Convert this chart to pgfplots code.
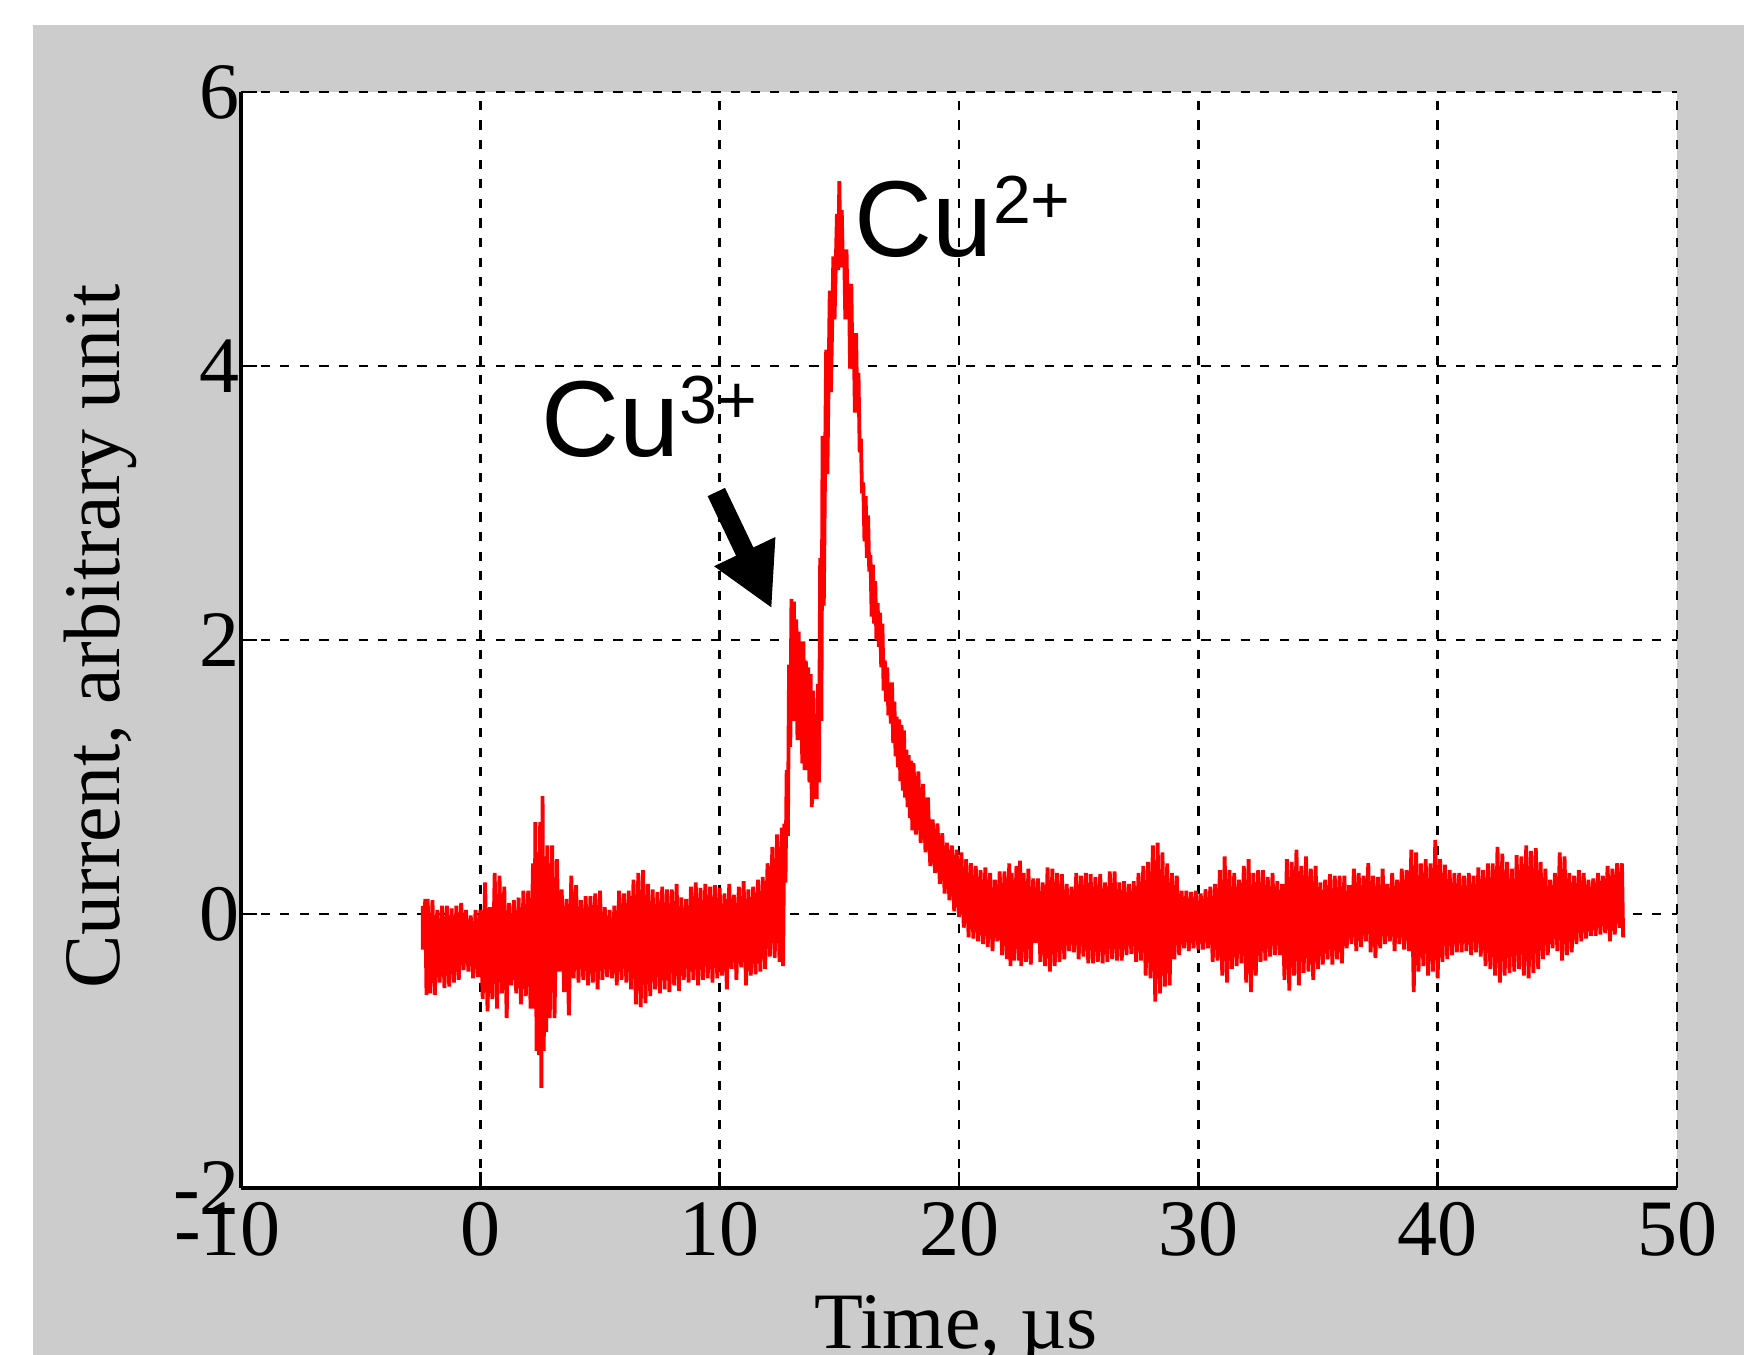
\documentclass[border=0pt]{standalone}
\usepackage{fontspec}
\setmainfont{Liberation Serif}
\newfontfamily\arial{Liberation Sans}
\usepackage{pgfplots}
\pgfplotsset{compat=1.18}
\usetikzlibrary{arrows.meta}
\definecolor{bggray}{RGB}{204,204,204}
\begin{document}
\begin{tikzpicture}[x=1pt,y=1pt]
\useasboundingbox (0,0) rectangle (436,338.75);
\fill[bggray] (8.25,0) rectangle (436,332.5);
\begin{axis}[
  at={(60.25pt,41.75pt)}, anchor=south west,
  scale only axis, width=359pt, height=274pt,
  xmin=-10, xmax=50, ymin=-2, ymax=6,
  xtick={-10,0,10,20,30,40,50}, ytick={-2,0,2,4,6},
  xticklabels={\llap{-}10,0,10,20,30,40,50},
  yticklabels={-2,0,2,4,6},
  axis background/.style={fill=white},
  axis x line*=bottom, axis y line*=left,
  axis line style={line width=1pt, black},
  grid=major,
  major grid style={black, line width=0.7pt, dash pattern=on 2.3pt off 2.6pt},
  tick style={black, line width=0.7pt},
  major tick length=4pt,
  tick align=inside,
  ticklabel style={font=\fontsize{20}{24}\selectfont},
  yticklabel style={xshift=3.2pt},
  xlabel={Time, µs}, ylabel={Current, arbitrary unit},
  label style={font=\fontsize{20}{24}\selectfont},
  xlabel style={at={(axis description cs:0.498,-0.1469)}, anchor=base},
  ylabel style={at={(axis description cs:-0.0843,0.503)}, anchor=base},
  clip=false,
]
\addplot[red, line width=0.95pt, line join=miter, miter limit=1.5] coordinates {
(-2.4,0.06)(-2.4,-0.26)(-2.3,0.11)(-2.25,-0.59)(-2.2,0.11)(-2.1,-0.58)(-2.0,0.10)(-1.9,-0.59)(-1.8,0.03)(-1.7,-0.50)
(-1.6,0.06)(-1.5,-0.54)(-1.4,0.06)(-1.3,-0.53)(-1.2,0.04)(-1.1,-0.50)(-1.0,0.06)(-0.9,-0.48)(-0.8,0.08)(-0.7,-0.41)
(-0.6,0.03)(-0.5,-0.42)(-0.4,-0.01)(-0.3,-0.47)(-0.2,0.03)(-0.1,-0.46)(0.0,0.03)(0.1,-0.62)(0.2,0.23)(0.3,-0.71)
(0.4,0.05)(0.5,-0.62)(0.6,0.30)(0.7,-0.69)(0.8,0.28)(0.9,-0.58)(1.0,0.20)(1.1,-0.76)(1.2,0.08)(1.3,-0.52)
(1.4,0.10)(1.5,-0.58)(1.6,0.12)(1.7,-0.66)(1.8,0.17)(1.9,-0.60)(2.0,0.17)(2.1,-0.69)(2.2,0.37)(2.25,-0.69)
(2.3,0.67)(2.35,-1.00)(2.4,0.45)(2.45,-1.03)(2.5,0.67)(2.55,-1.27)(2.6,0.86)(2.65,-1.00)(2.7,0.42)(2.75,-0.86)
(2.8,0.50)(2.9,-0.76)(3.0,0.50)(3.1,-0.76)(3.2,0.40)(3.3,-0.42)(3.4,0.18)(3.5,-0.57)(3.6,0.11)(3.7,-0.74)
(3.8,0.28)(3.9,-0.47)(4.0,0.21)(4.1,-0.50)(4.2,0.10)(4.3,-0.48)(4.4,0.13)(4.5,-0.52)(4.6,0.13)(4.7,-0.50)
(4.8,0.15)(4.9,-0.55)(5.0,0.17)(5.1,-0.48)(5.2,0.05)(5.3,-0.46)(5.4,0.03)(5.5,-0.47)(5.6,0.06)(5.7,-0.52)
(5.8,0.17)(5.9,-0.48)(6.0,0.15)(6.1,-0.50)(6.2,0.17)(6.3,-0.55)(6.4,0.25)(6.5,-0.66)(6.6,0.30)(6.7,-0.68)
(6.8,0.32)(6.9,-0.65)(7.0,0.22)(7.1,-0.60)(7.2,0.18)(7.3,-0.55)(7.4,0.16)(7.5,-0.58)(7.6,0.20)(7.7,-0.55)
(7.8,0.18)(7.9,-0.57)(8.0,0.18)(8.1,-0.52)(8.2,0.22)(8.3,-0.56)(8.4,0.12)(8.5,-0.48)(8.6,0.11)(8.7,-0.50)
(8.8,0.20)(8.9,-0.48)(9.0,0.23)(9.1,-0.52)(9.2,0.19)(9.3,-0.48)(9.4,0.22)(9.5,-0.47)(9.6,0.20)(9.7,-0.50)
(9.8,0.21)(9.9,-0.47)(10.0,0.19)(10.1,-0.45)(10.2,0.15)(10.3,-0.55)(10.4,0.22)(10.5,-0.40)(10.6,0.14)(10.7,-0.48)
(10.8,0.20)(10.9,-0.39)(11.0,0.24)(11.1,-0.52)(11.2,0.18)(11.3,-0.45)(11.4,0.20)(11.5,-0.44)(11.6,0.25)(11.7,-0.42)
(11.8,0.27)(11.9,-0.40)(12.0,0.37)(12.1,-0.31)(12.2,0.49)(12.3,-0.32)(12.4,0.58)(12.5,-0.35)(12.6,0.63)(12.65,-0.38)
(12.7,0.66)(12.75,0.23)(12.8,1.05)(12.85,0.57)(12.9,1.82)(12.95,1.22)(13.0,2.30)(13.05,1.41)(13.1,2.28)(13.15,1.41)
(13.2,2.15)(13.25,1.27)(13.3,2.06)(13.35,1.27)(13.4,1.99)(13.45,1.10)(13.5,1.99)(13.55,1.05)(13.6,1.85)(13.65,1.05)
(13.7,1.80)(13.75,0.96)(13.8,1.75)(13.85,0.78)(13.9,1.63)(13.95,0.84)(14.0,1.46)(14.05,0.84)(14.1,1.68)(14.15,0.96)
(14.2,2.60)(14.25,1.41)(14.3,3.49)(14.35,2.25)(14.45,4.12)(14.5,3.21)(14.6,4.55)(14.65,3.81)(14.75,4.80)(14.8,4.34)
(14.9,5.11)(14.95,4.70)(15.0,5.35)(15.05,4.72)(15.1,5.14)(15.15,4.72)(15.2,4.85)(15.25,4.34)(15.3,4.85)(15.35,4.34)
(15.4,4.60)(15.45,3.98)(15.5,4.60)(15.55,3.98)(15.6,4.24)(15.65,3.66)(15.7,4.24)(15.75,3.66)(15.8,3.95)(15.85,3.37)
(15.9,3.47)(15.95,3.07)(16.0,3.15)(16.05,2.72)(16.1,3.05)(16.15,2.60)(16.2,2.91)(16.25,2.50)(16.3,2.62)(16.35,2.17)
(16.4,2.55)(16.45,2.12)(16.5,2.43)(16.55,2.00)(16.6,2.27)(16.65,1.95)(16.7,2.20)(16.75,1.80)(16.8,2.12)(16.85,1.63)
(16.9,1.85)(16.95,1.55)(17.0,1.80)(17.05,1.45)(17.1,1.69)(17.15,1.39)(17.2,1.69)(17.25,1.25)(17.3,1.55)(17.35,1.15)
(17.4,1.44)(17.45,1.07)(17.5,1.42)(17.55,0.97)(17.6,1.38)(17.65,0.90)(17.7,1.34)(17.75,0.85)(17.8,1.20)(17.85,0.78)
(17.9,1.16)(17.95,0.70)(18.0,1.12)(18.05,0.61)(18.1,1.10)(18.2,0.58)(18.3,1.04)(18.4,0.52)(18.5,0.95)(18.6,0.45)
(18.7,0.85)(18.8,0.35)(18.9,0.69)(19.0,0.30)(19.1,0.66)(19.2,0.22)(19.3,0.59)(19.4,0.15)(19.5,0.52)(19.6,0.10)
(19.7,0.50)(19.8,0.02)(19.9,0.47)(20.0,-0.02)(20.1,0.45)(20.2,-0.10)(20.3,0.40)(20.4,-0.17)(20.5,0.37)(20.6,-0.18)
(20.7,0.35)(20.8,-0.20)(20.9,0.32)(21.0,-0.22)(21.1,0.34)(21.2,-0.24)(21.3,0.30)(21.4,-0.27)(21.5,0.25)(21.6,-0.20)
(21.7,0.31)(21.8,-0.30)(21.9,0.31)(22.0,-0.33)(22.1,0.37)(22.15,-0.38)(22.2,0.30)(22.3,-0.34)(22.4,0.35)(22.5,-0.34)
(22.55,0.39)(22.6,-0.38)(22.7,0.30)(22.8,-0.35)(22.9,0.33)(23.0,-0.37)(23.1,0.26)(23.2,-0.21)(23.3,0.26)(23.4,-0.35)
(23.5,0.23)(23.6,-0.38)(23.7,0.34)(23.8,-0.42)(23.9,0.33)(24.0,-0.38)(24.1,0.30)(24.2,-0.35)(24.3,0.29)(24.4,-0.33)
(24.5,0.22)(24.6,-0.27)(24.7,0.20)(24.8,-0.28)(24.9,0.30)(25.0,-0.33)(25.1,0.28)(25.2,-0.31)(25.3,0.30)(25.4,-0.36)
(25.5,0.29)(25.6,-0.36)(25.7,0.27)(25.8,-0.35)(25.9,0.29)(26.0,-0.36)(26.1,0.23)(26.2,-0.35)(26.3,0.31)(26.4,-0.33)
(26.5,0.31)(26.6,-0.34)(26.7,0.23)(26.8,-0.34)(26.9,0.24)(27.0,-0.30)(27.1,0.22)(27.2,-0.29)(27.3,0.24)(27.4,-0.35)
(27.5,0.30)(27.6,-0.34)(27.7,0.35)(27.8,-0.45)(27.9,0.38)(28.0,-0.47)(28.1,0.50)(28.2,-0.64)(28.3,0.52)(28.4,-0.58)
(28.5,0.45)(28.6,-0.53)(28.7,0.37)(28.8,-0.52)(28.9,0.30)(29.0,-0.33)(29.1,0.28)(29.2,-0.30)(29.3,0.17)(29.4,-0.25)
(29.5,0.17)(29.6,-0.27)(29.7,0.16)(29.8,-0.25)(29.9,0.17)(30.0,-0.26)(30.1,0.15)(30.2,-0.26)(30.3,0.18)(30.4,-0.25)
(30.5,0.20)(30.6,-0.35)(30.7,0.22)(30.8,-0.34)(30.9,0.32)(31.0,-0.45)(31.1,0.42)(31.2,-0.50)(31.3,0.32)(31.4,-0.40)
(31.5,0.30)(31.6,-0.38)(31.7,0.25)(31.8,-0.36)(31.9,0.35)(32.0,-0.50)(32.1,0.40)(32.2,-0.57)(32.3,0.30)(32.4,-0.45)
(32.5,0.32)(32.6,-0.35)(32.7,0.32)(32.8,-0.34)(32.9,0.27)(33.0,-0.31)(33.1,0.30)(33.2,-0.30)(33.3,0.24)(33.4,-0.30)
(33.5,0.22)(33.6,-0.48)(33.7,0.40)(33.8,-0.56)(33.9,0.38)(34.0,-0.45)(34.1,0.47)(34.2,-0.52)(34.3,0.35)(34.4,-0.43)
(34.5,0.42)(34.6,-0.42)(34.7,0.33)(34.8,-0.48)(34.9,0.35)(35.0,-0.40)(35.1,0.23)(35.2,-0.37)(35.3,0.25)(35.4,-0.33)
(35.5,0.29)(35.6,-0.37)(35.7,0.28)(35.8,-0.33)(35.9,0.28)(36.0,-0.36)(36.1,0.28)(36.2,-0.25)(36.3,0.21)(36.4,-0.22)
(36.5,0.33)(36.6,-0.27)(36.7,0.30)(36.8,-0.24)(36.9,0.28)(37.0,-0.20)(37.1,0.37)(37.2,-0.28)(37.3,0.28)(37.4,-0.32)
(37.5,0.27)(37.6,-0.25)(37.7,0.33)(37.8,-0.22)(37.9,0.22)(38.0,-0.20)(38.1,0.30)(38.2,-0.27)(38.3,0.25)(38.4,-0.22)
(38.5,0.33)(38.6,-0.26)(38.7,0.32)(38.8,-0.27)(38.9,0.47)(39.0,-0.57)(39.1,0.45)(39.2,-0.42)(39.3,0.37)(39.4,-0.38)
(39.5,0.40)(39.6,-0.45)(39.7,0.37)(39.8,-0.42)(39.9,0.54)(40.0,-0.47)(40.1,0.40)(40.2,-0.35)(40.3,0.36)(40.4,-0.33)
(40.5,0.32)(40.6,-0.30)(40.7,0.30)(40.8,-0.28)(40.9,0.30)(41.0,-0.28)(41.1,0.28)(41.2,-0.27)(41.3,0.30)(41.4,-0.30)
(41.5,0.28)(41.6,-0.28)(41.7,0.34)(41.8,-0.31)(41.9,0.32)(42.0,-0.38)(42.1,0.37)(42.2,-0.40)(42.3,0.37)(42.4,-0.45)
(42.5,0.49)(42.6,-0.50)(42.7,0.44)(42.8,-0.45)(42.9,0.38)(43.0,-0.43)(43.1,0.33)(43.2,-0.42)(43.3,0.43)(43.4,-0.40)
(43.5,0.42)(43.6,-0.45)(43.7,0.50)(43.8,-0.47)(43.9,0.46)(44.0,-0.43)(44.1,0.48)(44.2,-0.40)(44.3,0.38)(44.4,-0.33)
(44.5,0.33)(44.6,-0.30)(44.7,0.25)(44.8,-0.25)(44.9,0.30)(45.0,-0.27)(45.1,0.45)(45.2,-0.34)(45.3,0.42)(45.4,-0.30)
(45.5,0.30)(45.6,-0.28)(45.7,0.28)(45.8,-0.22)(45.9,0.32)(46.0,-0.20)(46.1,0.30)(46.2,-0.18)(46.3,0.25)(46.4,-0.16)
(46.5,0.26)(46.6,-0.16)(46.7,0.30)(46.8,-0.15)(46.9,0.28)(47.0,-0.14)(47.1,0.35)(47.2,-0.20)(47.3,0.33)(47.4,-0.15)
(47.5,0.37)(47.6,-0.10)(47.7,0.37)(47.75,-0.17)
};
\node[anchor=base west, inner sep=0pt, font=\arial\fontsize{27}{30}\selectfont] at (axis cs:15.62,4.80) {Cu\raisebox{8.3pt}{\fontsize{17}{20}\selectfont 2+}};
\node[anchor=base west, inner sep=0pt, font=\arial\fontsize{27}{30}\selectfont] at (axis cs:2.54,3.34) {Cu\raisebox{8.3pt}{\fontsize{17}{20}\selectfont 3+}};
\draw[line width=4.8pt, -{Triangle[length=15.75pt,width=15.75pt]}] (axis cs:9.86,3.08) -- (axis cs:12.18,2.23);
\end{axis}
\end{tikzpicture}
\end{document}
